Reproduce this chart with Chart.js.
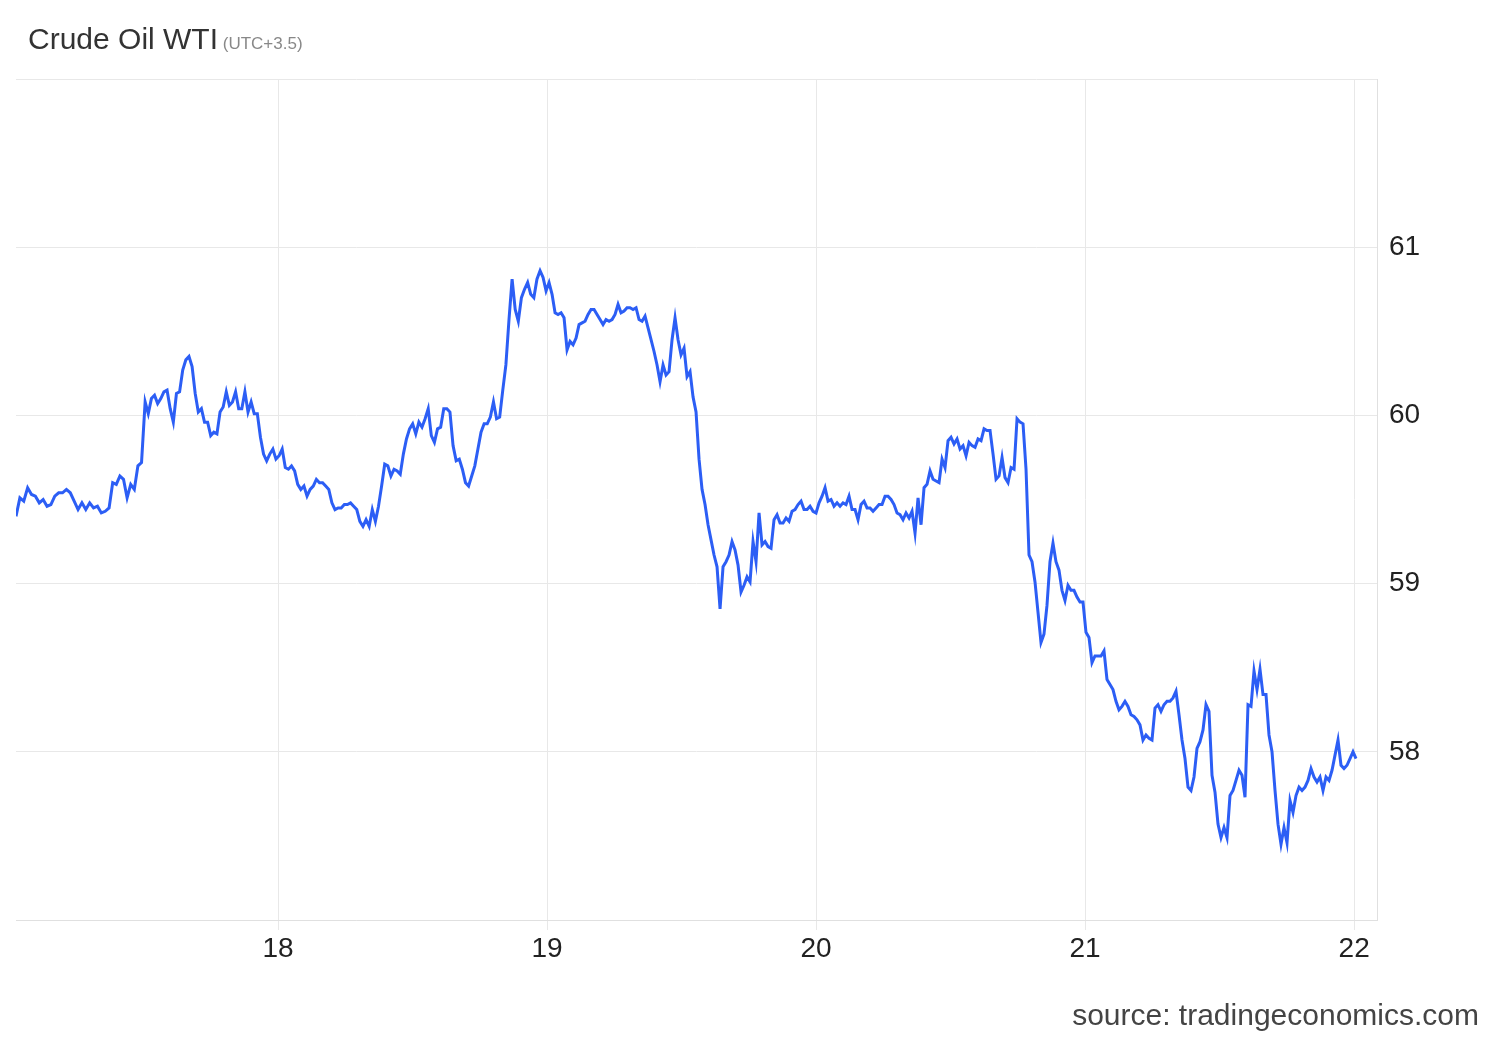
<!DOCTYPE html>
<html>
<head>
<meta charset="utf-8">
<script src="https://cdn.jsdelivr.net/npm/chart.js@4.4.0/dist/chart.umd.min.js"></script>
<style>
  body { margin: 0; background: #fff; font-family: "Liberation Sans", Arial, sans-serif; }
  #wrap { position: relative; width: 1500px; height: 1040px; }
  #title { position: absolute; left: 28px; top: 22px; font-size: 30px; color: #333; }
  #title small { font-size: 17px; color: #888; }
  #source { position: absolute; right: 21px; top: 998px; font-size: 30px; color: #444; }
</style>
</head>
<body>
<div id="wrap">
  <canvas id="myChart" width="1500" height="1040"></canvas>
  <div id="title">Crude Oil WTI<small> (UTC+3.5)</small></div>
  <div id="source">source: tradingeconomics.com</div>
</div>
<script>
// sample index -> day of month, read at a few recognisable turning points
var timeAnchors = [[0, 17.026], [24, 17.372], [34, 17.506], [48, 17.669], [161, 18.974],
                   [221, 19.643], [320, 20.747], [328, 20.836], [433, 22.007]];
var dayTicks = [18, 19, 20, 21, 22];
var priceTicks = [57, 58, 59, 60, 61, 62];

var prices = [
59.40,59.51,59.49,59.57,59.53,59.52,59.48,59.50,59.46,59.47,59.52,59.54,59.54,59.56,59.54,59.49,59.44,59.48,59.44,59.48,
59.45,59.46,59.42,59.43,59.45,59.60,59.59,59.64,59.62,59.51,59.59,59.56,59.70,59.72,60.08,60.01,60.10,60.12,60.07,60.10,
60.14,60.15,60.04,59.96,60.13,60.14,60.27,60.33,60.35,60.29,60.13,60.02,60.04,59.96,59.96,59.88,59.90,59.89,60.02,60.05,
60.14,60.06,60.08,60.14,60.04,60.04,60.14,60.02,60.08,60.01,60.01,59.87,59.77,59.73,59.77,59.80,59.74,59.76,59.80,59.69,
59.68,59.70,59.67,59.59,59.56,59.58,59.52,59.56,59.58,59.62,59.60,59.60,59.58,59.56,59.48,59.44,59.45,59.45,59.47,59.47,
59.48,59.46,59.44,59.37,59.34,59.38,59.34,59.44,59.37,59.46,59.58,59.71,59.70,59.64,59.68,59.67,59.65,59.77,59.86,59.92,
59.95,59.89,59.96,59.93,59.98,60.04,59.88,59.84,59.92,59.93,60.04,60.04,60.02,59.82,59.73,59.74,59.68,59.60,59.58,59.64,
59.70,59.80,59.90,59.95,59.95,59.99,60.08,59.98,59.99,60.15,60.30,60.57,60.81,60.63,60.56,60.70,60.75,60.79,60.72,60.70,
60.81,60.86,60.82,60.74,60.79,60.72,60.61,60.60,60.61,60.58,60.39,60.44,60.42,60.46,60.54,60.55,60.56,60.60,60.63,60.63,
60.60,60.57,60.54,60.57,60.56,60.57,60.60,60.66,60.61,60.62,60.64,60.64,60.63,60.64,60.57,60.56,60.59,60.52,60.45,60.38,
60.30,60.20,60.30,60.24,60.26,60.45,60.58,60.45,60.36,60.40,60.23,60.26,60.11,60.02,59.74,59.56,59.47,59.35,59.26,59.17,
59.10,58.85,59.10,59.13,59.17,59.25,59.20,59.11,58.95,58.99,59.04,59.01,59.25,59.13,59.42,59.23,59.25,59.22,59.21,59.38,
59.41,59.36,59.36,59.39,59.37,59.43,59.44,59.47,59.49,59.44,59.44,59.46,59.43,59.42,59.48,59.52,59.57,59.49,59.50,59.46,
59.48,59.46,59.48,59.47,59.52,59.44,59.44,59.38,59.47,59.49,59.45,59.45,59.43,59.45,59.47,59.47,59.52,59.52,59.50,59.47,
59.42,59.41,59.38,59.42,59.39,59.43,59.30,59.51,59.35,59.57,59.59,59.67,59.62,59.61,59.60,59.74,59.69,59.85,59.87,59.83,
59.86,59.80,59.82,59.76,59.84,59.82,59.81,59.86,59.85,59.92,59.91,59.91,59.77,59.62,59.64,59.75,59.63,59.60,59.69,59.68,
59.98,59.96,59.95,59.68,59.17,59.13,59.01,58.83,58.65,58.70,58.87,59.13,59.24,59.13,59.08,58.96,58.90,58.99,58.96,58.96,
58.92,58.89,58.89,58.71,58.68,58.53,58.57,58.57,58.57,58.60,58.43,58.40,58.37,58.30,58.25,58.27,58.30,58.27,58.22,58.21,
58.19,58.16,58.07,58.10,58.08,58.07,58.26,58.28,58.24,58.28,58.30,58.30,58.32,58.36,58.22,58.07,57.96,57.79,57.77,57.85,
58.02,58.06,58.13,58.28,58.24,57.86,57.76,57.57,57.49,57.55,57.49,57.74,57.77,57.83,57.89,57.86,57.73,58.28,58.27,58.48,
58.37,58.49,58.34,58.34,58.10,58.00,57.77,57.57,57.45,57.55,57.46,57.71,57.64,57.74,57.79,57.77,57.79,57.83,57.90,57.85,
57.82,57.85,57.77,57.85,57.83,57.89,57.98,58.07,57.92,57.90,57.92,57.96,58.00,57.96
];

function timeOf(i) {
    for (var k = 1; k < timeAnchors.length; k++) {
        var a = timeAnchors[k - 1], b = timeAnchors[k];
        if (i <= b[0]) return a[1] + (i - a[0]) * (b[1] - a[1]) / (b[0] - a[0]);
    }
    return timeAnchors[timeAnchors.length - 1][1];
}
var points = prices.map(function(p, i) { return { x: timeOf(i), y: p }; });

var ctx = document.getElementById('myChart').getContext('2d');
var chart = new Chart(ctx, {
    type: 'line',
    data: {
        datasets: [{
            data: points,
            borderColor: '#2c5ef5',
            borderWidth: 3,
            pointRadius: 0,
            tension: 0,
            fill: false
        }]
    },
    options: {
        responsive: false,
        animation: false,
        layout: { padding: { left: 16, top: 79, right: 0, bottom: 0 } },
        plugins: { legend: { display: false }, tooltip: { enabled: false } },
        scales: {
            x: {
                type: 'linear',
                min: 17.026,
                max: 22.085,
                afterBuildTicks: function(s) { s.ticks = dayTicks.map(function(v) { return { value: v }; }); },
                afterFit: function(s) { s.height = 120; },
                grid: { color: '#e8e8e8', tickLength: 10 },
                border: { color: '#e0e0e0' },
                ticks: { color: '#222', font: { size: 28, family: 'Liberation Sans' }, padding: 2, maxRotation: 0 }
            },
            y: {
                position: 'right',
                min: 57,
                max: 62,
                afterBuildTicks: function(s) { s.ticks = priceTicks.map(function(v) { return { value: v }; }); },
                afterFit: function(s) { s.width = 123; },
                grid: { color: '#e8e8e8', tickLength: 0 },
                border: { color: '#e0e0e0' },
                ticks: {
                    color: '#222', font: { size: 28, family: 'Liberation Sans' }, padding: 12,
                    callback: function(v) { return (v === 57 || v === 62) ? '' : v; }
                }
            }
        }
    }
});
</script>
</body>
</html>
